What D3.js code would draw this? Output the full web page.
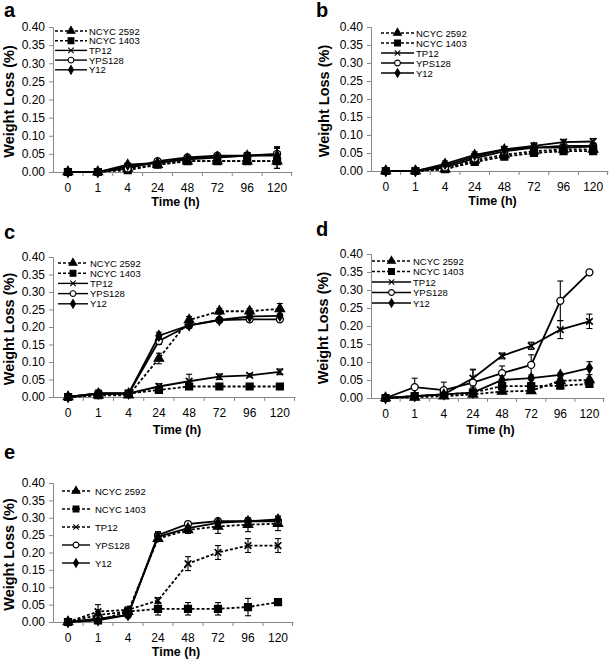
<!DOCTYPE html>
<html><head><meta charset="utf-8">
<script src="https://cdn.jsdelivr.net/npm/d3@7/dist/d3.min.js"></script>
<style>body{margin:0;background:#fff}svg{display:block}text{font-family:"Liberation Sans",Arial,sans-serif}</style>
</head><body><svg id="c" width="609" height="662"></svg>
<script>
const times = ["0","1","4","24","48","72","96","120"];
const series = ["NCYC 2592","NCYC 1403","TP12","YPS128","Y12"];
const yTicks = [0,0.05,0.10,0.15,0.20,0.25,0.30,0.35,0.40];

// panel a
const aNCYC2592 = [0,0,0.010,0.020,0.030,0.030,0.030,0.030];
const aNCYC1403 = [0,0,0.005,0.020,0.030,0.030,0.030,0.030];
const aTP12     = [0,0,0.015,0.025,0.035,0.040,0.045,0.048];
const aYPS128   = [0,0,0.010,0.030,0.040,0.045,0.045,0.050];
const aY12      = [0,0,0.020,0.025,0.037,0.042,0.045,0.045];
const aErr      = [0,0,0.005,0.005,0.006,0.006,0.008,0.020];
// panel b
const bNCYC2592 = [0,0,0.005,0.030,0.045,0.055,0.060,0.060];
const bNCYC1403 = [0,0,0.005,0.025,0.040,0.050,0.055,0.055];
const bTP12     = [0,0,0.015,0.040,0.060,0.070,0.080,0.082];
const bYPS128   = [0,0,0.010,0.035,0.055,0.065,0.070,0.070];
const bY12      = [0,0,0.020,0.045,0.060,0.065,0.065,0.068];
const bErr      = [0,0,0.008,0.008,0.008,0.008,0.008,0.008];
// panel c
const cNCYC2592 = [0,0.005,0.005,0.110,0.220,0.245,0.245,0.252];
const cNCYC1403 = [0,0.005,0.010,0.020,0.030,0.030,0.030,0.030];
const cTP12     = [0,0.010,0.010,0.030,0.045,0.058,0.062,0.072];
const cYPS128   = [0,0.010,0.010,0.160,0.205,0.220,0.222,0.222];
const cY12      = [0,0.010,0.010,0.175,0.205,0.220,0.230,0.232];
const cErrNCYC2592 = [0,0.005,0.005,0.015,0.010,0.008,0.008,0.015];
const cErrNCYC1403 = [0,0.005,0.005,0.005,0.008,0.008,0.008,0.008];
const cErrTP12     = [0,0.010,0.005,0.008,0.020,0.008,0.005,0.008];
const cErrYPS128   = [0,0.005,0.005,0.010,0.008,0.005,0.005,0.005];
const cErrY12      = [0,0.005,0.005,0.010,0.008,0.005,0.005,0.005];
// panel d
const dNCYC2592 = [0,0.002,0.005,0.010,0.018,0.020,0.048,0.050];
const dNCYC1403 = [0,0.005,0.010,0.015,0.033,0.033,0.034,0.039];
const dTP12     = [0,0.005,0.010,0.055,0.117,0.145,0.190,0.213];
const dYPS128   = [0,0.030,0.022,0.043,0.069,0.092,0.270,0.349];
const dY12      = [0,0.005,0.010,0.015,0.050,0.055,0.064,0.083];
const dErrNCYC2592 = [0,0.003,0.003,0.005,0.005,0.005,0.005,0.005];
const dErrNCYC1403 = [0,0.003,0.003,0.005,0.005,0.005,0.005,0.005];
const dErrTP12     = [0,0.003,0.005,0.025,0.008,0.010,0.025,0.020];
const dErrYPS128   = [0,0.025,0.022,0.035,0.020,0.028,0.055,0.003];
const dErrY12      = [0,0.003,0.005,0.010,0.012,0.005,0.005,0.018];
// panel e
const eNCYC2592 = [0,0.020,0.030,0.240,0.265,0.275,0.280,0.283];
const eNCYC1403 = [0,0.005,0.030,0.038,0.038,0.038,0.043,0.057];
const eTP12     = [0,0.030,0.035,0.062,0.168,0.200,0.220,0.220];
const eYPS128   = [0,0.010,0.020,0.250,0.282,0.290,0.290,0.290];
const eY12      = [0,0.005,0.020,0.245,0.270,0.285,0.290,0.295];
const eErrNCYC2592 = [0,0.010,0.005,0.008,0.010,0.020,0.020,0.020];
const eErrNCYC1403 = [0,0.010,0.005,0.018,0.018,0.018,0.025,0.008];
const eErrTP12     = [0,0.020,0.008,0.008,0.020,0.020,0.020,0.020];
const eErrYPS128   = [0,0.005,0.005,0.010,0.005,0.005,0.005,0.005];
const eErrY12      = [0,0.005,0.005,0.010,0.005,0.005,0.008,0.010];

const markers = [d3.symbolTriangle, d3.symbolSquare, d3.symbolX, d3.symbolCircle, d3.symbolDiamond];
const markerSize = [38, 48, 30, 38, 30];

const panels = [
  {letter:"a", lx:4, ly:17, left:53, right:292, top:27, bottom:172, ytx:9, titleY:206,
   data:[aNCYC2592,aNCYC1403,aTP12,aYPS128,aY12], err:[aErr,aErr,aErr,aErr,aErr],
   dashed:[true,true,false,false,false], leg:{x1:55,x2:87,tx:89,y0:31,dy:9.7}},
  {letter:"b", lx:316, ly:17, left:371, right:608, top:27, bottom:171, ytx:324, titleY:205,
   data:[bNCYC2592,bNCYC1403,bTP12,bYPS128,bY12], err:[bErr,bErr,bErr,bErr,bErr],
   dashed:[true,true,false,false,false], leg:{x1:381,x2:414,tx:416,y0:33,dy:10}},
  {letter:"c", lx:4, ly:239, left:53, right:295, top:257, bottom:397, ytx:9, titleY:434,
   data:[cNCYC2592,cNCYC1403,cTP12,cYPS128,cY12], err:[cErrNCYC2592,cErrNCYC1403,cErrTP12,cErrYPS128,cErrY12],
   dashed:[true,true,false,false,false], leg:{x1:58,x2:88,tx:90,y0:263,dy:10.2}},
  {letter:"d", lx:316, ly:236, left:371, right:604, top:254, bottom:398, ytx:323, titleY:434,
   data:[dNCYC2592,dNCYC1403,dTP12,dYPS128,dY12], err:[dErrNCYC2592,dErrNCYC1403,dErrTP12,dErrYPS128,dErrY12],
   dashed:[true,true,false,false,false], leg:{x1:372,x2:411,tx:413,y0:261,dy:10.5}},
  {letter:"e", lx:4, ly:459, left:53, right:293, top:483, bottom:622, ytx:8.5, titleY:656,
   data:[eNCYC2592,eNCYC1403,eTP12,eYPS128,eY12], err:[eErrNCYC2592,eErrNCYC1403,eErrTP12,eErrYPS128,eErrY12],
   dashed:[true,true,true,false,false], leg:{x1:62,x2:90,tx:95,y0:491,dy:18}}
];

const svg = d3.select("#c");
const axisColor = "#888";

panels.forEach(p => {
  const g = svg.append("g");
  const x = d3.scaleBand().domain(times).range([p.left, p.right]).padding(0);
  const y = d3.scaleLinear().domain([0,0.40]).range([p.bottom, p.top]);
  const cx = t => x(t) + x.bandwidth()/2;

  g.append("text").attr("x", p.lx).attr("y", p.ly).attr("font-size", 20).attr("font-weight", "bold").text(p.letter);

  const ya = g.append("g").attr("transform", `translate(${p.left},0)`)
    .call(d3.axisLeft(y).tickValues(yTicks).tickFormat(d3.format(".2f")).tickSize(4).tickPadding(4));
  ya.select(".domain").attr("stroke", axisColor);
  ya.selectAll(".tick line").attr("stroke", axisColor);
  ya.selectAll("text").attr("font-size", 12).attr("fill", "#000");

  const xa = g.append("g").attr("transform", `translate(0,${p.bottom})`)
    .call(d3.axisBottom(x).tickSize(0).tickPadding(11));
  xa.select(".domain").attr("stroke", axisColor);
  xa.selectAll("text").attr("font-size", 12).attr("fill", "#000");
  g.selectAll(".xt").data(times.slice(1).concat(["end"])).enter().append("line")
    .attr("x1", d => d === "end" ? p.right - 0.5 : x(d)).attr("x2", d => d === "end" ? p.right - 0.5 : x(d))
    .attr("y1", p.bottom).attr("y2", p.bottom + 4).attr("stroke", axisColor);

  g.append("text").attr("x", (p.left + p.right)/2 + 3).attr("y", p.titleY).attr("text-anchor","middle")
    .attr("font-size", 12.5).attr("font-weight","bold").text("Time (h)");
  g.append("text").attr("transform", `translate(${p.ytx},${(p.top+p.bottom)/2 + 2}) rotate(-90)`)
    .attr("text-anchor","middle").attr("dominant-baseline","central")
    .attr("font-size", 14.5).attr("font-weight","bold").text("Weight Loss (%)");

  p.data.forEach((vals, si) => {
    const err = p.err[si];
    const pts = vals.map((v,i) => ({t: times[i], v, e: err[i]}));
    pts.forEach(d => {
      if (d.e <= 0) return;
      const X = cx(d.t), y1 = y(d.v + d.e), y2 = y(Math.max(0, d.v - d.e));
      g.append("line").attr("x1", X).attr("x2", X).attr("y1", y1).attr("y2", y2).attr("stroke","#000").attr("stroke-width",1.1);
      [y1, y2].forEach(yy => g.append("line").attr("x1", X-3).attr("x2", X+3).attr("y1", yy).attr("y2", yy).attr("stroke","#000").attr("stroke-width",1.1));
    });
    g.append("path").datum(pts)
      .attr("d", d3.line().x(d => cx(d.t)).y(d => y(d.v)))
      .attr("fill","none").attr("stroke","#000").attr("stroke-width", 1.8)
      .attr("stroke-dasharray", p.dashed[si] ? "3,2" : null);
    const sym = d3.symbol().type(markers[si]).size(markerSize[si]);
    g.selectAll(null).data(pts).enter().append("path")
      .attr("d", sym).attr("transform", d => `translate(${cx(d.t)},${y(d.v)})`)
      .attr("fill", si === 3 ? "#fff" : "#000").attr("stroke","#000").attr("stroke-width", si === 2 ? 1.7 : 1.3);
  });

  const L = p.leg;
  series.forEach((name, si) => {
    const yy = L.y0 + si * L.dy;
    g.append("line").attr("x1", L.x1).attr("x2", L.x2).attr("y1", yy).attr("y2", yy)
      .attr("stroke","#000").attr("stroke-width",1.4).attr("stroke-dasharray", p.dashed[si] ? "3,2" : null);
    g.append("path").attr("d", d3.symbol().type(markers[si]).size(markerSize[si]*0.7))
      .attr("transform", `translate(${(L.x1+L.x2)/2},${yy})`)
      .attr("fill", si === 3 ? "#fff" : "#000").attr("stroke","#000").attr("stroke-width", 1.1);
    g.append("text").attr("x", L.tx).attr("y", yy).attr("dominant-baseline","central")
      .attr("font-size", 9.5).text(name);
  });
});
</script></body></html>
